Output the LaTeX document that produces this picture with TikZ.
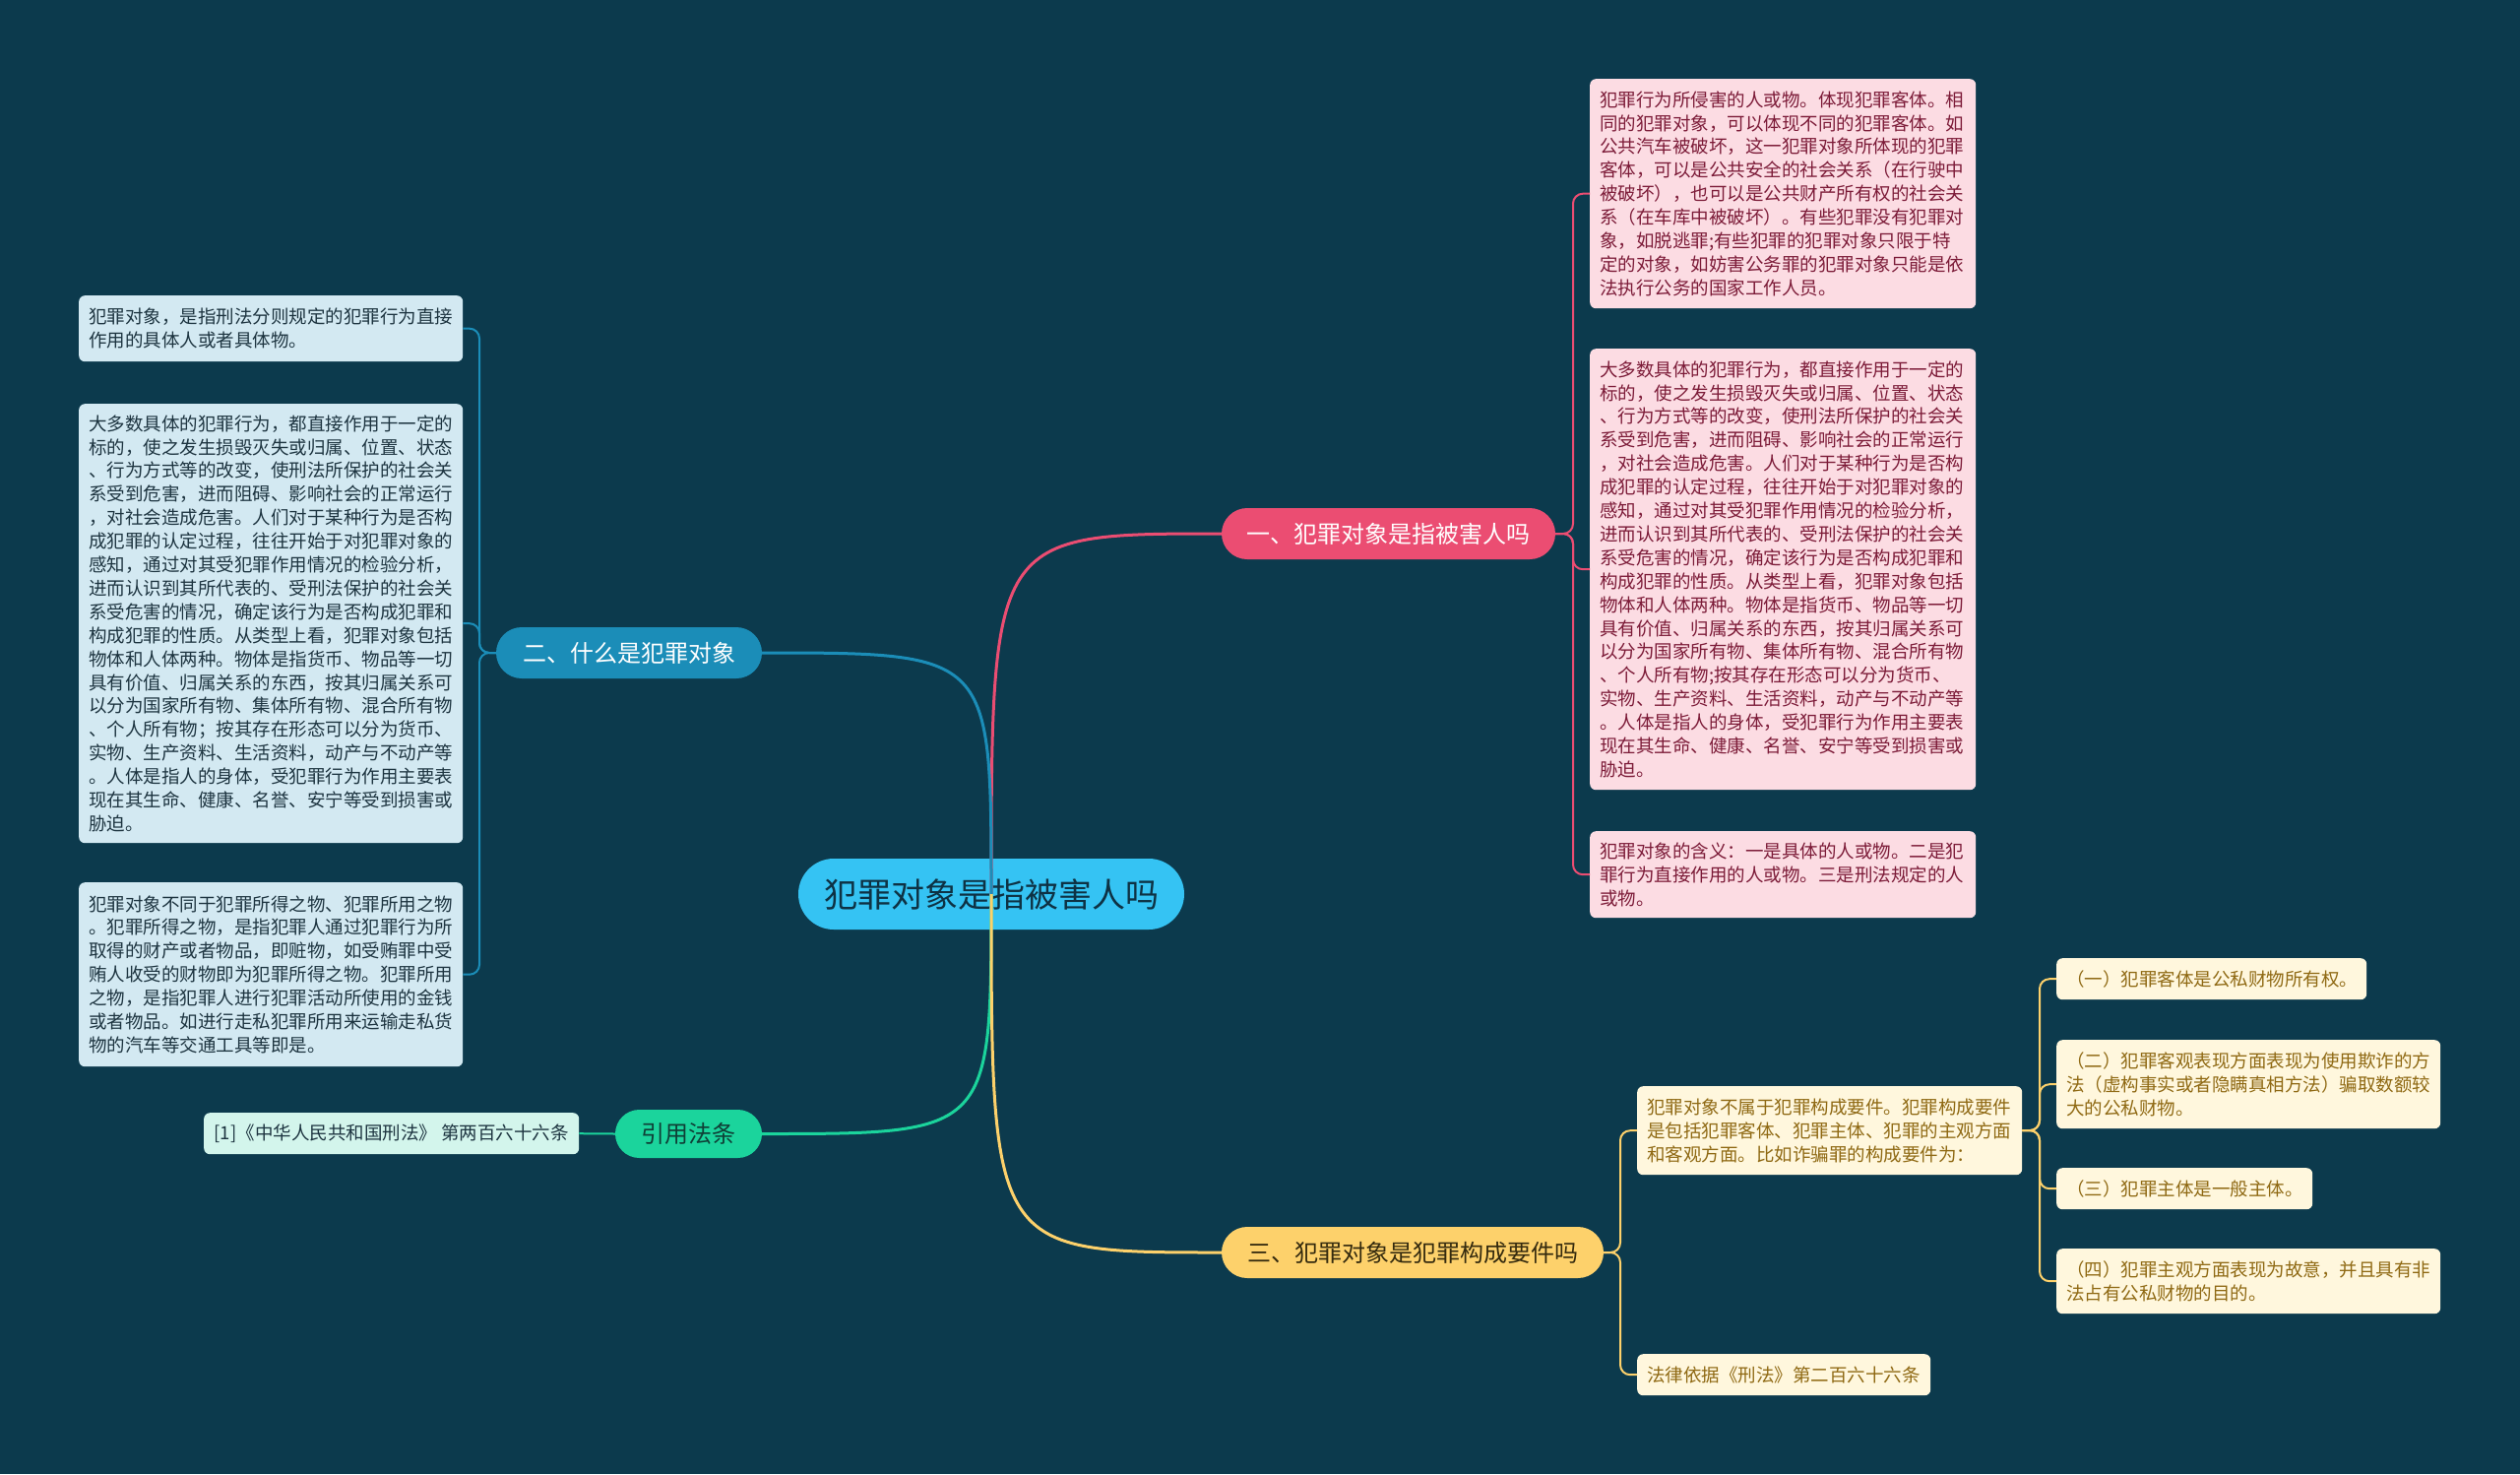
\documentclass[tikz,border=0pt]{standalone}
\usepackage{fontspec}
\setmainfont{Noto Sans CJK SC}
\definecolor{bg}{RGB}{12,58,77}
\definecolor{cfill}{RGB}{53,195,243}
\definecolor{ctext}{RGB}{14,50,68}
\definecolor{pinkc}{RGB}{235,77,114}
\definecolor{bluec}{RGB}{27,141,184}
\definecolor{greenc}{RGB}{27,212,156}
\definecolor{yellowc}{RGB}{253,209,107}
\definecolor{pinkfill}{RGB}{252,220,227}
\definecolor{pinktext}{RGB}{124,27,56}
\definecolor{bluefill}{RGB}{211,233,242}
\definecolor{bluetext}{RGB}{29,52,64}
\definecolor{creamfill}{RGB}{255,247,221}
\definecolor{creamtext}{RGB}{143,105,19}
\definecolor{mintfill}{RGB}{211,245,236}
\definecolor{darkyellowtext}{RGB}{52,42,14}
\definecolor{darkgreentext}{RGB}{15,63,54}
\tikzset{
  mainnode/.style={rounded corners=26pt, minimum height=52pt, inner sep=0pt, font=\fontsize{24}{28}\selectfont},
  leaf/.style={anchor=north west, rounded corners=6pt, inner xsep=10pt, inner ysep=0pt, align=left, font=\fontsize{18.5}{23.9}\selectfont},
  pinkleaf/.style={leaf, fill=pinkfill, text=pinktext, text width=372pt},
  blueleaf/.style={leaf, fill=bluefill, text=bluetext, text width=370pt},
  creamleaf/.style={leaf, fill=creamfill, text=creamtext},
  mainline/.style={line width=3pt},
  subline/.style={line width=2pt, rounded corners=10pt}
}
\begin{document}
\begin{tikzpicture}[x=1pt,y=-1pt]
\fill[bg] (0,0) rectangle (2560,1497);
\useasboundingbox (0,0) rectangle (2560,1497);

% center
\node[rounded corners=36pt, minimum width=392pt, minimum height=72pt, inner sep=0pt, fill=cfill, text=ctext, font=\fontsize{34}{40}\selectfont] (c) at (1007,908) {犯罪对象是指被害人吗};

% main branches
\node[mainnode, minimum width=339pt, fill=pinkc, text=white] (n1) at (1410.5,542) {一、犯罪对象是指被害人吗};
\node[mainnode, minimum width=270pt, fill=bluec, text=white] (n2) at (639,663) {二、什么是犯罪对象};
\node[mainnode, minimum width=388pt, fill=yellowc, text=darkyellowtext] (n3) at (1435,1272) {三、犯罪对象是犯罪构成要件吗};
\node[mainnode, rounded corners=24.5pt, minimum width=149pt, minimum height=49pt, fill=greenc, text=darkgreentext] (n4) at (699.5,1151.5) {引用法条};

% pink leaves
\node[pinkleaf, minimum height=233pt] (p1) at (1615,80) {犯罪行为所侵害的人或物。体现犯罪客体。相\\同的犯罪对象，可以体现不同的犯罪客体。如\\公共汽车被破坏，这一犯罪对象所体现的犯罪\\客体，可以是公共安全的社会关系（在行驶中\\被破坏），也可以是公共财产所有权的社会关\\系（在车库中被破坏）。有些犯罪没有犯罪对\\象，如脱逃罪;有些犯罪的犯罪对象只限于特\\定的对象，如妨害公务罪的犯罪对象只能是依\\法执行公务的国家工作人员。};
\node[pinkleaf, minimum height=448pt] (p2) at (1615,354) {大多数具体的犯罪行为，都直接作用于一定的\\标的，使之发生损毁灭失或归属、位置、状态\\、行为方式等的改变，使刑法所保护的社会关\\系受到危害，进而阻碍、影响社会的正常运行\\，对社会造成危害。人们对于某种行为是否构\\成犯罪的认定过程，往往开始于对犯罪对象的\\感知，通过对其受犯罪作用情况的检验分析，\\进而认识到其所代表的、受刑法保护的社会关\\系受危害的情况，确定该行为是否构成犯罪和\\构成犯罪的性质。从类型上看，犯罪对象包括\\物体和人体两种。物体是指货币、物品等一切\\具有价值、归属关系的东西，按其归属关系可\\以分为国家所有物、集体所有物、混合所有物\\、个人所有物;按其存在形态可以分为货币、\\实物、生产资料、生活资料，动产与不动产等\\。人体是指人的身体，受犯罪行为作用主要表\\现在其生命、健康、名誉、安宁等受到损害或\\胁迫。};
\node[pinkleaf, minimum height=88pt] (p3) at (1615,844) {犯罪对象的含义：一是具体的人或物。二是犯\\罪行为直接作用的人或物。三是刑法规定的人\\或物。};

% blue leaves
\node[blueleaf, minimum height=67pt] (b1) at (80,300) {犯罪对象，是指刑法分则规定的犯罪行为直接\\作用的具体人或者具体物。};
\node[blueleaf, minimum height=446pt] (b2) at (80,410) {大多数具体的犯罪行为，都直接作用于一定的\\标的，使之发生损毁灭失或归属、位置、状态\\、行为方式等的改变，使刑法所保护的社会关\\系受到危害，进而阻碍、影响社会的正常运行\\，对社会造成危害。人们对于某种行为是否构\\成犯罪的认定过程，往往开始于对犯罪对象的\\感知，通过对其受犯罪作用情况的检验分析，\\进而认识到其所代表的、受刑法保护的社会关\\系受危害的情况，确定该行为是否构成犯罪和\\构成犯罪的性质。从类型上看，犯罪对象包括\\物体和人体两种。物体是指货币、物品等一切\\具有价值、归属关系的东西，按其归属关系可\\以分为国家所有物、集体所有物、混合所有物\\、个人所有物；按其存在形态可以分为货币、\\实物、生产资料、生活资料，动产与不动产等\\。人体是指人的身体，受犯罪行为作用主要表\\现在其生命、健康、名誉、安宁等受到损害或\\胁迫。};
\node[blueleaf, minimum height=187pt] (b3) at (80,896) {犯罪对象不同于犯罪所得之物、犯罪所用之物\\。犯罪所得之物，是指犯罪人通过犯罪行为所\\取得的财产或者物品，即赃物，如受贿罪中受\\贿人收受的财物即为犯罪所得之物。犯罪所用\\之物，是指犯罪人进行犯罪活动所使用的金钱\\或者物品。如进行走私犯罪所用来运输走私货\\物的汽车等交通工具等即是。};

% citation
\node[anchor=north west, rounded corners=6pt, inner sep=0pt, fill=mintfill, text=bluetext, minimum width=381pt, minimum height=42pt, font=\fontsize{18.5}{23.9}\selectfont] (r1) at (207,1130) {[1]《中华人民共和国刑法》~第两百六十六条};

% cream leaves
\node[creamleaf, text width=371pt, minimum height=90pt] (y1) at (1663,1103) {犯罪对象不属于犯罪构成要件。犯罪构成要件\\是包括犯罪客体、犯罪主体、犯罪的主观方面\\和客观方面。比如诈骗罪的构成要件为：};
\node[creamleaf, text width=295pt, minimum height=42pt] (y2) at (2089,973) {（一）犯罪客体是公私财物所有权。};
\node[creamleaf, text width=370pt, minimum height=90pt] (y3) at (2089,1056) {（二）犯罪客观表现方面表现为使用欺诈的方\\法（虚构事实或者隐瞒真相方法）骗取数额较\\大的公私财物。};
\node[creamleaf, text width=240pt, minimum height=42pt] (y4) at (2089,1186) {（三）犯罪主体是一般主体。};
\node[creamleaf, text width=370pt, minimum height=66pt] (y5) at (2089,1268) {（四）犯罪主观方面表现为故意，并且具有非\\法占有公私财物的目的。};
\node[creamleaf, text width=278pt, minimum height=42pt] (y6) at (1663,1375) {法律依据《刑法》第二百六十六条};

% main curves
\draw[mainline, pinkc] (c.center) .. controls (1007,542) .. (n1.west);
\draw[mainline, bluec] (c.center) .. controls (1007,663) .. (n2.east);
\draw[mainline, greenc] (c.center) .. controls (1007,1151.5) .. (n4.east);
\draw[mainline, yellowc] (c.center) .. controls (1007,1272) .. (n3.west);

% sub connectors
\foreach \t in {p1,p2,p3} \draw[subline, pinkc] (n1.east) -- (1598,542) |- (\t.west);
\foreach \t in {b1,b2,b3} \draw[subline, bluec] (n2.west) -- (487,663) |- (\t.east);
\draw[subline, greenc] (n4.west) -- (r1.east);
\foreach \t in {y1,y6} \draw[subline, yellowc] (n3.east) -- (1646,1272) |- (\t.west);
\foreach \t in {y2,y3,y4,y5} \draw[subline, yellowc] (y1.east) -- (2072,1148) |- (\t.west);
\end{tikzpicture}
\end{document}
